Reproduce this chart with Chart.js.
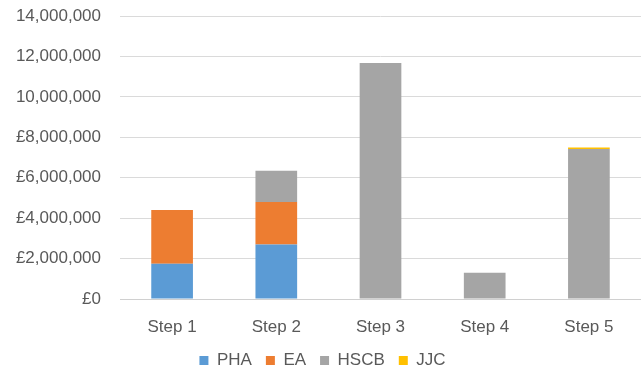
<!DOCTYPE html>
<html>
<head>
<meta charset="utf-8">
<script src="https://cdn.jsdelivr.net/npm/chart.js@4"></script>
<style>
  html, body { margin: 0; padding: 0; background: #ffffff; }
  #chart { display: block; }
</style>
</head>
<body>
<canvas id="chart" width="641" height="367"></canvas>
<script>
// Data
var steps = ['Step 1', 'Step 2', 'Step 3', 'Step 4', 'Step 5'];
var pha = [1750000, 2700000, 0, 0, 0];
var ea = [2650000, 2100000, 0, 0, 0];
var hscb = [0, 1540000, 11680000, 1300000, 7420000];
var jjc = [0, 0, 0, 0, 70000];
var yTickValues = [0, 2000000, 4000000, 6000000, 8000000, 10000000, 12000000, 14000000];
var yTickLabels = ['£0', '£2,000,000', '£4,000,000', '£6,000,000', '£8,000,000', '10,000,000', '12,000,000', '14,000,000'];

var textColor = '#595959';
Chart.defaults.font.family = '"Liberation Sans", Arial, sans-serif';

var ctx = document.getElementById('chart').getContext('2d');
var chart = new Chart(ctx, {
    type: 'bar',
    data: {
        labels: steps,
        datasets: [{
            label: 'PHA',
            data: pha,
            backgroundColor: '#5b9bd5'
        }, {
            label: 'EA',
            data: ea,
            backgroundColor: '#ed7d31'
        }, {
            label: 'HSCB',
            data: hscb,
            backgroundColor: '#a5a5a5'
        }, {
            label: 'JJC',
            data: jjc,
            backgroundColor: '#ffc000'
        }]
    },
    options: {
        responsive: false,
        animation: false,
        datasets: {
            bar: {
                categoryPercentage: 1,
                barPercentage: 0.4
            }
        },
        layout: {
            padding: { top: 16, right: -4, bottom: 0, left: 0 }
        },
        plugins: {
            legend: {
                position: 'bottom',
                maxHeight: 29,
                labels: {
                    color: textColor,
                    boxWidth: 9,
                    boxHeight: 9,
                    padding: 14,
                    font: { size: 17 }
                }
            },
            tooltip: { enabled: false }
        },
        scales: {
            x: {
                stacked: true,
                grid: { display: false },
                border: { color: '#d0d0d0' },
                afterFit: function(axis) {
                    axis.height = 39;
                },
                ticks: {
                    color: textColor,
                    font: { size: 17 },
                    padding: 10
                }
            },
            y: {
                stacked: true,
                min: 0,
                max: 14000000,
                afterBuildTicks: function(axis) {
                    axis.ticks = yTickValues.map(function(v) { return { value: v }; });
                },
                afterFit: function(axis) {
                    axis.width = 120;
                    axis.paddingTop = 0;
                    axis.paddingBottom = 0;
                },
                grid: { color: '#dadada', drawTicks: false },
                border: { display: false },
                ticks: {
                    color: textColor,
                    font: { size: 17 },
                    padding: 19,
                    callback: function(value) {
                        var i = yTickValues.indexOf(value);
                        return i >= 0 ? yTickLabels[i] : '';
                    }
                }
            }
        }
    }
});
</script>
</body>
</html>
